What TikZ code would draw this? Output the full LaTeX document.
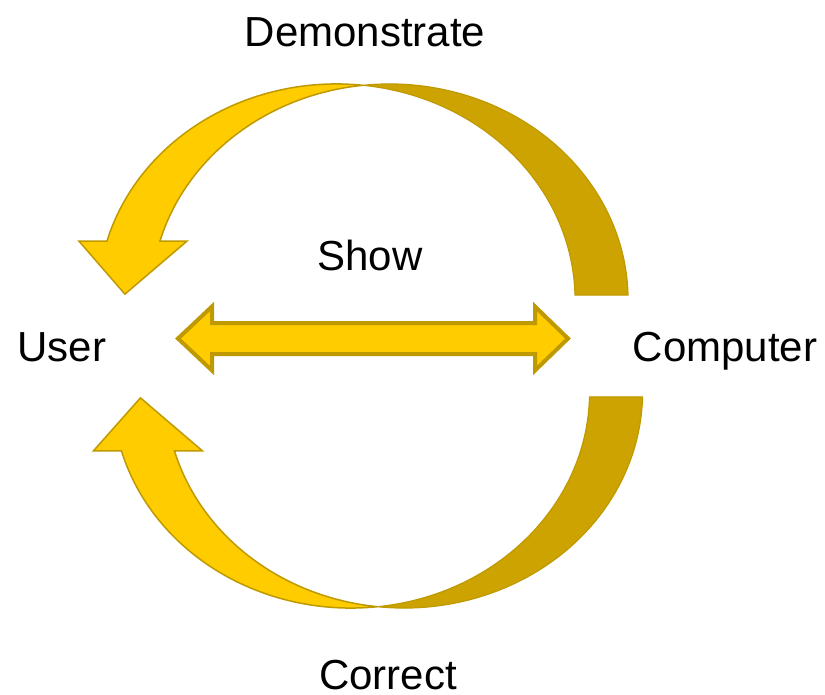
\documentclass[tikz,border=0pt]{standalone}
\usepackage{fontspec}
\setmainfont{Liberation Sans}
\usetikzlibrary{
    calc
}
\definecolor{goldlight}{RGB}{255, 204, 0}
\definecolor{golddark}{RGB}{204, 163, 0}
\definecolor{goldedge}{RGB}{191, 153, 0}
\tikzset {
    rim/.style = {x radius = 238.5, y radius = 216},
    front band/.style = {fill = goldlight, draw = goldedge, line width = 1.5pt},
    back band/.style = {fill = golddark, draw = goldedge, line width = 1.2pt},
    both arrow/.style = {fill = goldlight, draw = goldedge, line width = 4pt, line join = miter},
    word/.style = {font = \fontsize{42}{50}\selectfont, inner sep = 0pt, anchor = base}
}

\begin{document}
\begin{tikzpicture}[x = 1pt, y = -1pt]
    \useasboundingbox (0, 0) rectangle (825, 695);
    \coordinate (tm) at (363, 85.3);
    \coordinate (bm) at (377.5, 606.7);
    % demonstrate
    \draw [back band] (tm) arc [rim, start angle = -96.4, end angle = -1.3]
        -- ++(-53, 0) arc [rim, start angle = -1.3, end angle = -83.6] -- cycle;
    \draw [front band] (tm) arc [rim, start angle = -83.6, end angle = -164.2]
        -- ++(-28, 0) -- ++(46, 53) -- ++(62, -53) -- ++(-27, 0)
        arc [rim, start angle = -164.2, end angle = -96.4] -- cycle;
    % correct
    \draw [back band] (bm) arc [rim, start angle = 96.4, end angle = 1.3]
        -- ++(-53, 0) arc [rim, start angle = 1.3, end angle = 83.6] -- cycle;
    \draw [front band] (bm) arc [rim, start angle = 83.6, end angle = 164.2]
        -- ++(-28, 0) -- ++(47, -53) -- ++(62, 53) -- ++(-28, 0)
        arc [rim, start angle = 164.2, end angle = 96.4] -- cycle;
    % show
    \coordinate (sl) at (178, 338.5);
    \coordinate (sr) at (568, 338.5);
    \draw [both arrow] (sl) -- ++(34, -32) -- ++(0, 16.5) -- ($(sr) + (-33, -15.5)$) -- ++(0, -16.5)
        -- (sr) -- ++(-33, 32) -- ++(0, -16.5) -- ($(sl) + (34, 15.5)$) -- ++(0, 16.5) -- cycle;
    \node (demo) [word] at (365, 47) {Demonstrate};
    \node (show) [word] at (370, 271) {Show};
    \node (user) [word] at (62, 361) {User};
    \node (computer) [word] at (725, 361) {Computer};
    \node (correct) [word] at (388, 689) {Correct};
\end{tikzpicture}
\end{document}
